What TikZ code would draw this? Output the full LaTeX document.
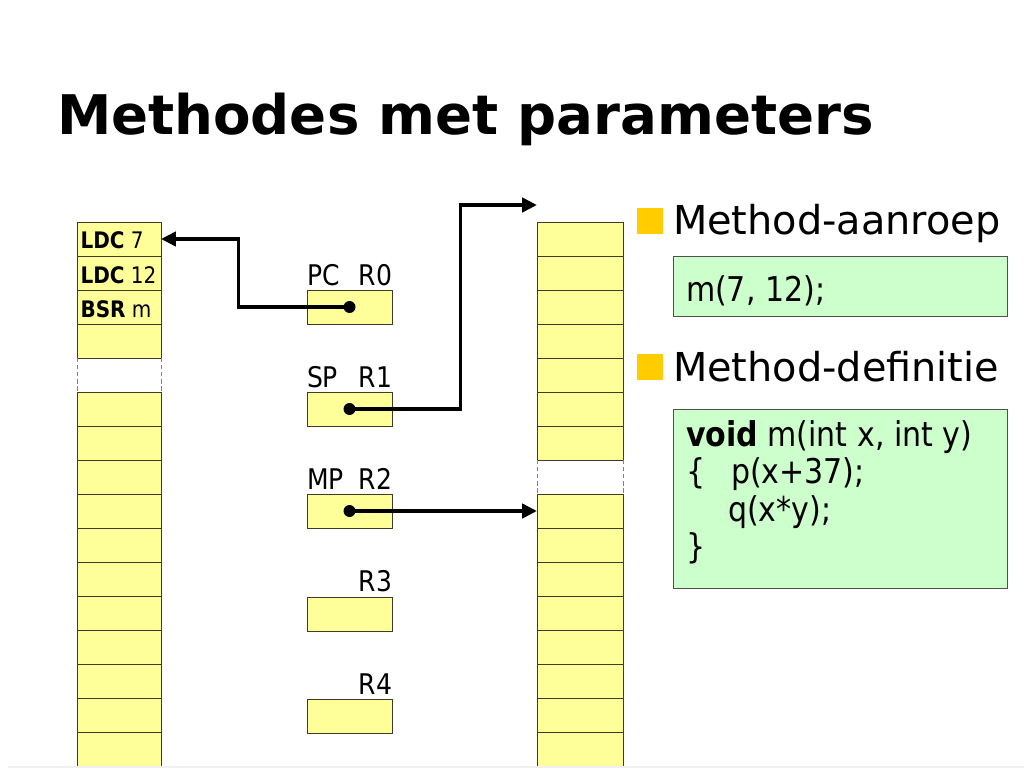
\documentclass[tikz,border=0pt]{standalone}
\usepackage{fontspec}
\setmainfont{DejaVu Sans}
\newfontfamily\tah[FakeStretch=0.88]{DejaVu Sans}
\usetikzlibrary{arrows.meta}
\definecolor{cellyellow}{HTML}{FFFF99}
\definecolor{codegreen}{HTML}{CCFFCC}
\definecolor{bulletgold}{HTML}{FFCC00}
\definecolor{celledge}{HTML}{3C3C28}
\definecolor{boxedge}{HTML}{505050}
\def\pxu{0.703125pt}
\begin{document}
\begin{tikzpicture}[x=0.703125pt,y=-0.703125pt,
  cell/.style={draw=celledge, fill=cellyellow, line width=0.7pt, inner sep=0pt, outer sep=0pt,
    minimum width=84*\pxu, minimum height=34*\pxu},
  rcell/.style={cell, minimum width=86*\pxu},
  gapcell/.style={draw=none, inner sep=0pt, outer sep=0pt, minimum width=84*\pxu, minimum height=34*\pxu},
  rgapcell/.style={gapcell, minimum width=86*\pxu},
  gapline/.style={draw=gray, line width=0.7pt, dash pattern=on 3pt off 2pt},
  reg/.style={cell, minimum width=85*\pxu},
  dot/.style={circle, fill=black, inner sep=0pt, minimum size=12*\pxu},
  arr/.style={line width=2.7pt, -{Triangle[length=10.5pt,width=10pt]}},
  txt/.style={inner sep=0pt, outer sep=0pt, anchor=base west},
  rtxt/.style={inner sep=0pt, outer sep=0pt, anchor=base east},
  lbl/.style={font=\tah\fontsize{20}{24}\selectfont},
  celltxt/.style={font=\tah\fontsize{16}{19}\selectfont},
  codetxt/.style={font=\tah\fontsize{24}{28}\selectfont},
  headtxt/.style={font=\fontsize{28}{33}\selectfont},
  bulletsq/.style={fill=bulletgold, inner sep=0pt, minimum size=26*\pxu},
  codebox/.style={draw=boxedge, fill=codegreen, line width=0.8pt, inner sep=0pt, anchor=north west}
]
\useasboundingbox (0,0) rectangle (1024,768);
\fill[white] (0,0) rectangle (1024,768);

% title
\node[txt, font=\fontsize{38.4}{46}\selectfont\bfseries] (title) at (57,135) {Methodes met parameters};

% left memory column
\foreach \i in {1,...,16}{
  \pgfmathsetmacro\yy{239+34*(\i-1)}
  \ifnum\i=5 \node[gapcell] (L\i) at (119,\yy) {};
  \else \node[cell] (L\i) at (119,\yy) {}; \fi
}
\draw[gapline] (L5.north west) -- (L5.south west) (L5.north east) -- (L5.south east);
\node[txt, celltxt] (t1) at (80.5,249) {\textbf{LDC} 7};
\node[txt, celltxt] (t2) at (80.5,283) {\textbf{LDC} 12};
\node[txt, celltxt] (t3) at (80.5,317) {\textbf{BSR} m};

% right memory column
\foreach \i in {1,...,16}{
  \pgfmathsetmacro\yy{239+34*(\i-1)}
  \ifnum\i=8 \node[rgapcell] (R\i) at (580,\yy) {};
  \else \node[rcell] (R\i) at (580,\yy) {}; \fi
}
\draw[gapline] (R8.north west) -- (R8.south west) (R8.north east) -- (R8.south east);

% registers
\foreach \k/\yy in {0/307,1/409,2/511,3/614,4/716.5}{
  \node[reg] (reg\k) at (349.5,\yy) {};
}
\node[txt, lbl] (pc) at (307,285) {PC};
\node[rtxt, lbl] (r0) at (392,285) {R0};
\node[txt, lbl] (sp) at (307,387) {SP};
\node[rtxt, lbl] (r1) at (392,387) {R1};
\node[txt, lbl] (mp) at (307,489) {MP};
\node[rtxt, lbl] (r2) at (392,489) {R2};
\node[rtxt, lbl] (r3) at (392,591.5) {R3};
\node[rtxt, lbl] (r4) at (392,694) {R4};

% pointers
\coordinate (sptop) at (537,205);
\draw[arr] (reg0.center) -- ++(-111,0) |- (L1.east);
\draw[arr] (reg1.center) -- ++(111,0) |- (sptop);
\draw[arr] (reg2.center) -- (R9.west);
\node[dot] (d0) at (reg0.center) {};
\node[dot] (d1) at (reg1.center) {};
\node[dot] (d2) at (reg2.center) {};

% right text
\node[bulletsq] (b1) at (650,221) {};
\node[txt, headtxt] (h1) at (673,235) {Method-aanroep};
\node[codebox, minimum width=334*\pxu, minimum height=60*\pxu] (call) at (673,256) {};
\node[txt, codetxt] (c0) at (686,301) {m(7, 12);};

\node[bulletsq] (b2) at (650,366.5) {};
\node[txt, headtxt] (h2) at (673,381) {Method-definitie};
\node[codebox, minimum width=334*\pxu, minimum height=179*\pxu] (def) at (673,409) {};
\node[txt, codetxt] (c1) at (686,446) {\textbf{void} m(int x, int y)};
\node[txt, codetxt] (c2) at (686,483.5) {\{};
\node[txt, codetxt] (c3) at (731,483.5) {p(x+37);};
\node[txt, codetxt] (c4) at (728,521) {q(x*y);};
\node[txt, codetxt] (c5) at (686,558.5) {\}};

% footer line
\draw[gray!12, line width=1pt] (8,767) -- (1024,767);
\end{tikzpicture}
\end{document}
